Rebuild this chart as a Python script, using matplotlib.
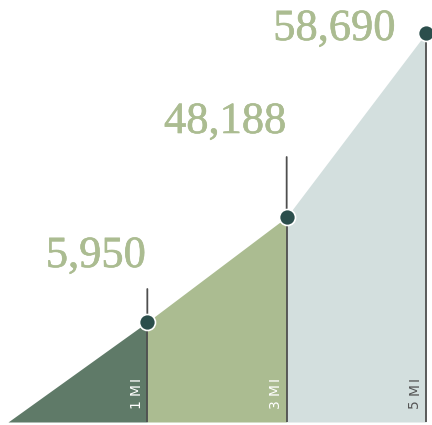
import numpy as np
import matplotlib

matplotlib.use("Agg")
import matplotlib.pyplot as plt
import matplotlib.patheffects as pe

# --------------------------------------------------------------------------- #
#  Data
# --------------------------------------------------------------------------- #
radius_labels = ["1 MI", "3 MI", "5 MI"]
population = [5950, 48188, 58690]

# visual heights (px) that the population values are pinned to on the y-scale
knot_values = [0, 5950, 48188, 58690]
knot_heights = [0, 100, 205, 389]

DARK = "#5f7a68"
SAGE = "#abbc91"
MIST = "#d3dfde"
DOT = "#2b4e4c"
RULE = "#4f4f4f"

# piecewise-linear y scale, extrapolated past the last knot
_slope = (knot_heights[-1] - knot_heights[-2]) / (knot_values[-1] - knot_values[-2])
_kv = np.array(knot_values + [knot_values[-1] + 1000 / _slope], dtype=float)
_kh = np.array(knot_heights + [knot_heights[-1] + 1000], dtype=float)


def _fwd(v):
    return np.interp(v, _kv, _kh)


def _inv(h):
    return np.interp(h, _kh, _kv)


def tracked_label(ax, x, text, color, fs=10, dx=-3.5, y0=10.0, track=1.3):
    """Vertical, letter-spaced label stacked upward from the baseline."""
    renderer = ax.figure.canvas.get_renderer()
    y = y0
    for ch in text:
        if ch == " ":
            y += fs * 0.2
            continue
        t = ax.annotate(ch, xy=(x, 0), xytext=(dx, y),
                        textcoords="offset points", rotation=90,
                        ha="right", va="bottom", fontsize=fs, color=color,
                        family="DejaVu Sans", zorder=5)
        h = t.get_window_extent(renderer).height * 72 / ax.figure.dpi
        y += h + track


fig = plt.figure(figsize=(4.32, 4.25), dpi=100)
ax = fig.add_axes([0, 3 / 425, 1, 422 / 425])
ax.set_yscale("function", functions=(_fwd, _inv))
ax.set_ylim(0, _inv(422))
ax.set_xlim(-8 / 139.5, 3 + 6 / 139.5)
ax.axis("off")

xs = np.arange(len(population) + 1)
ys = [0] + population
fills = [DARK, SAGE, MIST]
for i, c in enumerate(fills):
    ax.fill_between(xs[i:i + 2], [0, 0], ys[i:i + 2], color=c, linewidth=0,
                    zorder=1)

# leader rules, dots, value labels
leader_px = [33, 60, 0]
label_off = [(-1, 55), (0, 84), (-30, -7)]
label_color = ["white", "white", "#555555"]
bold = [pe.withStroke(linewidth=0.45, foreground=SAGE)]
for i, (val, lab) in enumerate(zip(population, radius_labels)):
    x = xs[i + 1]
    ax.vlines(x, 0, val, color=RULE, linewidth=1.3, zorder=2)
    if leader_px[i]:
        ax.annotate("", xy=(x, val), xytext=(0, leader_px[i] * 0.72),
                    textcoords="offset points",
                    arrowprops=dict(arrowstyle="-", color=RULE, lw=1.3,
                                    shrinkA=0, shrinkB=0), zorder=2)
    ax.plot(x, val, "o", ms=11.5, color=DOT, mec="white", mew=1.2, zorder=4)
    dx, dy = label_off[i]
    ax.annotate(f"{val:,}", xy=(x, val), xytext=(dx * 0.72, dy * 0.72),
                textcoords="offset points", ha="right", va="baseline",
                fontsize=32, color=SAGE, family="Liberation Serif",
                path_effects=bold, zorder=5)
    tracked_label(ax, x, lab, label_color[i])

fig.savefig("out.png", dpi=100, facecolor="white")
